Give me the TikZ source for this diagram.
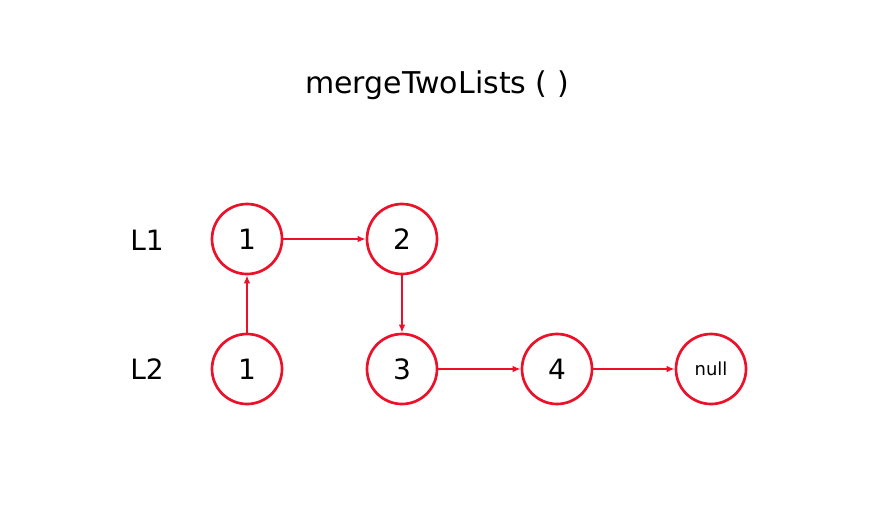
\documentclass[tikz,border=0pt]{standalone}
\usepackage{fontspec}
\setmainfont{DejaVu Sans}
\usetikzlibrary{arrows.meta}
\definecolor{nodered}{RGB}{236,16,40}
\begin{document}
\begin{tikzpicture}[x=0.75pt,y=-0.75pt,
  lnode/.style={circle,draw=nodered,line width=2pt,minimum size=52.5pt,inner sep=0pt,font=\fontsize{21}{24}\selectfont},
  link/.style={draw=nodered,line width=2pt,-{Latex[length=6pt,width=5pt]}},
  lab/.style={font=\fontsize{21}{24}\selectfont}]
\useasboundingbox (0,0) rectangle (888,518);
\node[font=\fontsize{22.5}{26}\selectfont] (title) at (437,85) {mergeTwoLists ( )};
\node[lab] (l1) at (147,240) {L1};
\node[lab] (l2) at (147,369) {L2};
\node[lnode] (a1) at (247,239) {1};
\node[lnode] (a2) at (402,239) {2};
\node[lnode] (b1) at (247,369) {1};
\node[lnode] (b3) at (402,369) {3};
\node[lnode] (b4) at (557,369) {4};
\node[lnode,font=\fontsize{13.5}{16}\selectfont] (bn) at (711,369) {null};
\draw[link] (a1) -- (a2);
\draw[link] (b1) -- (a1);
\draw[link] (a2) -- (b3);
\draw[link] (b3) -- (b4);
\draw[link] (b4) -- (bn);
\end{tikzpicture}
\end{document}
